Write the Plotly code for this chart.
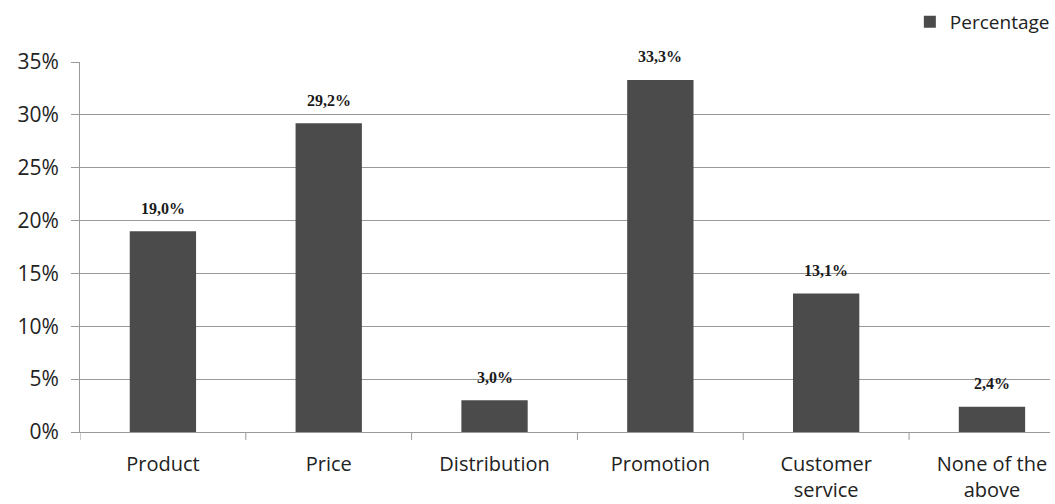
import plotly.graph_objects as go

categories = ["Product", "Price", "Distribution", "Promotion", "Customer<br>service", "None of the<br>above"]
values = [19.0, 29.2, 3.0, 33.3, 13.1, 2.4]
labels = ["19,0%", "29,2%", "3,0%", "33,3%", "13,1%", "2,4%"]
yticks = [0, 5, 10, 15, 20, 25, 30, 35]
yticktext = ["0%", "5%", "10%", "15%", "20%", "25%", "30%", "35%"]

fig = go.Figure()
fig.add_trace(go.Bar(
    x=list(range(len(categories))), y=values, name="Percentage",
    marker=dict(color="#4b4b4b", line=dict(width=0)), width=0.4,
))
for i, (v, t) in enumerate(zip(values, labels)):
    fig.add_annotation(x=i, y=v, text="<b>" + t + "</b>", showarrow=False, yshift=23,
                       font=dict(family="Liberation Serif", size=16, color="#1a1a1a"))

fig.update_layout(
    width=1055, height=504,
    margin=dict(l=80, r=0, t=62, b=72),
    plot_bgcolor="white", paper_bgcolor="white",
    bargap=0.6,
    showlegend=True,
    legend=dict(x=1.005, xanchor="right", y=1.16, yanchor="top",
                font=dict(family="Open Sans", size=19, color="#222"),
                bgcolor="rgba(0,0,0,0)", itemwidth=30),
    font=dict(family="Open Sans", size=20, color="#222"),
)
fig.update_xaxes(
    tickmode="array", tickvals=list(range(len(categories))), ticktext=categories,
    range=[-0.5, 5.35], showgrid=False, showline=True, linecolor="#999", linewidth=1,
    ticks="", zeroline=False, ticklabelstandoff=14,
    tickfont=dict(family="Open Sans", size=20, color="#222"),
)
# boundary tick marks
for b in range(0, 6):
    fig.add_shape(type="line", xref="x", yref="paper", x0=b - 0.5, x1=b - 0.5,
                  y0=0, y1=-8 / 370, line=dict(color="#999", width=1))
fig.update_yaxes(
    range=[0, 35], tickmode="array", tickvals=yticks, ticktext=yticktext,
    showgrid=True, gridcolor="#999", gridwidth=1,
    showline=True, linecolor="#999", linewidth=1,
    ticks="outside", ticklen=8, tickcolor="#999",
    ticklabelstandoff=8, zeroline=False,
    tickfont=dict(family="Open Sans", size=21, color="#222"),
)
fig.write_html("out.html")
